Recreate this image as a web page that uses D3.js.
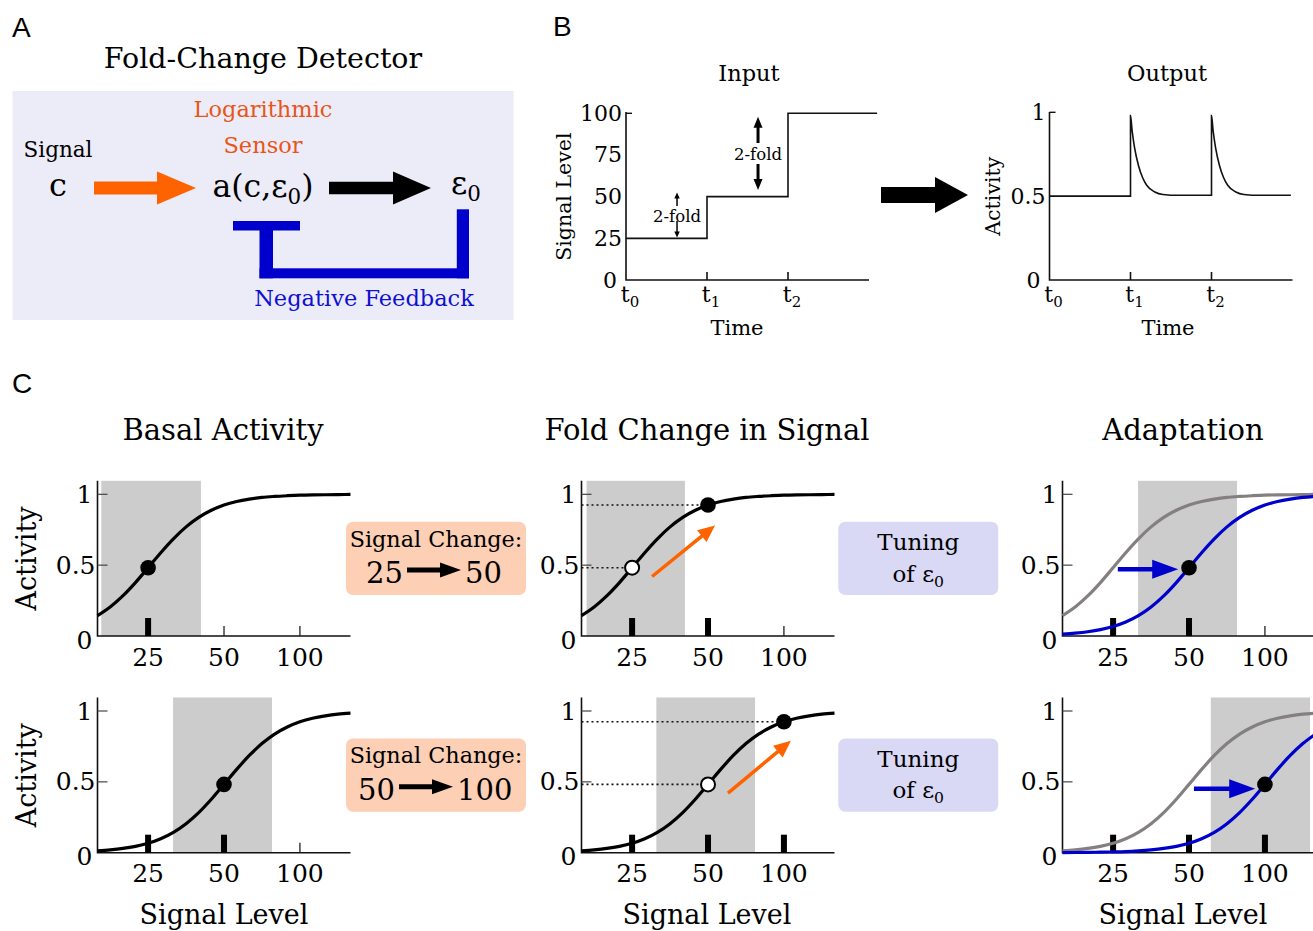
<!DOCTYPE html>
<html><head><meta charset="utf-8">
<script src="https://cdn.jsdelivr.net/npm/d3@7"></script>
<style>body{margin:0;background:#fff}svg{display:block}text{font-family:"DejaVu Serif",serif}text.sans{font-family:"Liberation Sans",Arial,sans-serif}</style>
</head><body>
<svg id="chart" width="1313" height="931"></svg>
<script>
// ================= DATA =================
// Panel B — input step signal
const inputTime = [0, 1, 2, 3.1];
const inputLevel = [25, 50, 100, 100];
const inputTickLabels = [0, 25, 50, 75, 100];
const timeTickValues = [0, 1, 2];
const timeTickLabels = ["0", "1", "2"];
const foldArrowTime = [0.63, 1.63];
const foldArrowLow = [25.5, 54];
const foldArrowHigh = [52.5, 98];
// Panel B — output activity
const outputTime = [0, 1, 1, 1.02, 1.05, 1.1, 1.15, 1.2, 1.3, 1.4, 1.6, 2, 2, 2.02, 2.05, 2.1, 2.15, 2.2, 2.3, 2.4, 2.6, 2.98];
const outputActivity = [0.5, 0.5, 0.98, 0.89, 0.79, 0.68, 0.61, 0.565, 0.525, 0.51, 0.505, 0.505, 0.98, 0.89, 0.79, 0.68, 0.61, 0.565, 0.525, 0.51, 0.505, 0.505];
const activityTickLabels = [0, 0.5, 1];

// Panel C — dose-response curves (log signal axis)
const signalLevels = [15.75, 17.68, 19.84, 22.27, 25, 28.06, 31.5, 35.36, 39.69, 44.54, 50, 56.12, 63, 70.71, 79.37, 89.09, 100, 112.2, 126, 141.4, 158.7];
const activityMid25 = [0.144, 0.205, 0.283, 0.377, 0.482, 0.588, 0.686, 0.770, 0.837, 0.887, 0.924, 0.949, 0.966, 0.978, 0.985, 0.990, 0.994, 0.996, 0.997, 0.998, 0.999];
const activityMid50 = [0.013, 0.020, 0.030, 0.045, 0.067, 0.099, 0.144, 0.205, 0.283, 0.377, 0.482, 0.588, 0.686, 0.770, 0.837, 0.887, 0.924, 0.949, 0.966, 0.978, 0.985];
const activityMid100 = [0.001, 0.0015, 0.002, 0.004, 0.0055, 0.008, 0.013, 0.020, 0.030, 0.045, 0.067, 0.099, 0.144, 0.205, 0.283, 0.377, 0.482, 0.588, 0.686, 0.770, 0.837];
const signalTicks = [25, 50, 100];
const basalSignal = [25, 50];
const changedSignal = [50, 100];
const columnTitles = ["Basal Activity", "Fold Change in Signal", "Adaptation"];
const shadeLow = [[16.3, 16.5, 31.4], [31.4, 31.2, 61]];
const shadeHigh = [[40.5, 40.5, 77.5], [77.5, 76.8, 151]];
const markedSignals = [[[25], [25, 50], [25, 50]], [[25, 50], [25, 50, 100], [25, 50, 100]]];
const orangeArrowFrom = [[30, 0.42], [60, 0.42]];
const orangeArrowTo = [[53.3, 0.78], [106.6, 0.79]];
const blueArrowFrom = [[26.1, 0.471], [52.3, 0.452]];
const blueArrowTo = [[45.3, 0.471], [91.5, 0.452]];

// ================= DRAWING =================
const svg = d3.select("#chart");
const ORANGE = "#ff6300", BLUE = "#0000cc";

function txt(g, x, y, s, size, o = {}) {
  const t = g.append("text").attr("x", x).attr("y", y).attr("font-size", size)
    .attr("text-anchor", o.anchor || "middle").attr("fill", o.fill || "#000");
  if (o.sans) t.attr("class", "sans");
  if (o.rotate) t.attr("transform", `rotate(-90,${x},${y})`);
  t.text(s);
  return t;
}
function subText(g, x, y, parts, size, o = {}) {
  const t = g.append("text").attr("x", x).attr("y", y).attr("font-size", size)
    .attr("text-anchor", o.anchor || "middle").attr("fill", o.fill || "#000");
  let shifted = false;
  parts.forEach(([s, sub]) => {
    const sp = t.append("tspan").text(s);
    if (sub && !shifted) { sp.attr("font-size", size * 0.68).attr("dy", size * 0.22); shifted = true; }
    else if (sub) { sp.attr("font-size", size * 0.68); }
    else if (!sub && shifted) { sp.attr("dy", -size * 0.22); shifted = false; }
  });
  return t;
}
function arrow(g, x1, y1, x2, y2, w, hl, hw, color) {
  const dx = x2 - x1, dy = y2 - y1, L = Math.hypot(dx, dy), ux = dx / L, uy = dy / L, px = -uy, py = ux;
  const bx = x2 - ux * hl, by = y2 - uy * hl;
  const pts = [[x1 + px * w / 2, y1 + py * w / 2], [bx + px * w / 2, by + py * w / 2], [bx + px * hw / 2, by + py * hw / 2],
    [x2, y2], [bx - px * hw / 2, by - py * hw / 2], [bx - px * w / 2, by - py * w / 2], [x1 - px * w / 2, y1 - py * w / 2]];
  g.append("polygon").attr("points", pts.map(p => p.join(",")).join(" ")).attr("fill", color);
}

// ---------- Panel A ----------
const A = svg.append("g");
txt(A, 12, 37, "A", 28, { anchor: "start", sans: true });
txt(A, 263, 68, "Fold-Change Detector", 28.5);
A.append("rect").attr("x", 12.5).attr("y", 91).attr("width", 501).attr("height", 229).attr("fill", "#ececf8");
txt(A, 263, 117, "Logarithmic", 22.5, { fill: "#e8561a" });
txt(A, 263, 153, "Sensor", 22.5, { fill: "#e8561a" });
txt(A, 58, 157, "Signal", 21.5);
txt(A, 58, 196, "c", 32);
arrow(A, 94, 188, 196, 188, 13, 39, 33, ORANGE);
subText(A, 263, 197, [["a(c,ε", false], ["0", true], [")", false]], 31.5);
arrow(A, 329, 188, 431, 188, 12.5, 38, 33, "#000");
subText(A, 466, 194, [["ε", false], ["0", true]], 31.5);
[[233, 221, 67, 9.5], [259.5, 221, 13.5, 57.3], [259.5, 268.3, 209.5, 10], [456.8, 209.3, 12.2, 69]]
  .forEach(r => A.append("rect").attr("x", r[0]).attr("y", r[1]).attr("width", r[2]).attr("height", r[3]).attr("fill", BLUE));
txt(A, 364, 306, "Negative Feedback", 22.5, { fill: "#1010d0" });

// ---------- Panel B ----------
const B = svg.append("g");
txt(B, 553, 36, "B", 28, { anchor: "start", sans: true });

function timePlot(g, x0, x1, yScale, yTop, yLabels, title, ylab, titleX, timeX, ylabX) {
  const xs = d3.scaleLinear().domain([0, 3]).range([x0, x1]);
  g.append("path").attr("d", `M${x0},${yTop}V${yScale(0)}H${x1}`).attr("fill", "none").attr("stroke", "#111").attr("stroke-width", 1.6);
  timeTickValues.slice(1).forEach(t => g.append("line").attr("x1", xs(t)).attr("x2", xs(t)).attr("y1", yScale(0)).attr("y2", yScale(0) - 8).attr("stroke", "#111").attr("stroke-width", 1.6));
  const top = yLabels[yLabels.length - 1];
  g.append("line").attr("x1", x0).attr("x2", x0 + 6).attr("y1", yScale(top)).attr("y2", yScale(top)).attr("stroke", "#111").attr("stroke-width", 1.4);
  yLabels.forEach(v => {
    const t = txt(g, v === 0 ? x0 - 9 : x0 - 4, yScale(v) + (v === 0 ? 8 : 0), String(v), 22, { anchor: "end" });
    if (v !== 0) t.attr("dominant-baseline", "central");
  });
  timeTickValues.forEach((t, i) => subText(g, xs(t) + 4, 302, [["t", false], [timeTickLabels[i], true]], 22));
  txt(g, timeX, 335, "Time", 21);
  txt(g, titleX, 81, title, 22.5);
  txt(g, ylabX, (yScale(0) + yScale(top)) / 2, ylab, 20.5, { rotate: true });
  return xs;
}
const yIn = d3.scaleLinear().domain([0, 100]).range([280, 113.3]);
const xIn = timePlot(B, 626, 869, yIn, 112, inputTickLabels, "Input", "Signal Level", 749, 737, 571);
B.append("path").datum(inputTime.map((t, i) => [t, inputLevel[i]]))
  .attr("d", d3.line().x(d => xIn(d[0])).y(d => yIn(d[1])).curve(d3.curveStepAfter))
  .attr("fill", "none").attr("stroke", "#111").attr("stroke-width", 1.6);
foldArrowTime.forEach((t, i) => {
  const x = xIn(t), yl = yIn(foldArrowLow[i]), yh = yIn(foldArrowHigh[i]);
  const big = i === 1;
  const lw = big ? 3 : 1.5, hl = big ? 11 : 6, hw = big ? 9 : 5.5;
  const labelY = big ? 160 : 222;
  const gapTop = big ? 143 : 206, gapBot = big ? 164 : 221;
  arrow(B, x, gapTop, x, yh, lw, hl, hw, "#000");
  arrow(B, x, gapBot, x, yl, lw, hl, hw, "#000");
  txt(B, x, labelY, "2-fold", 16.5);
});
arrow(B, 881, 195, 968, 195, 16, 33, 36, "#000");

const yOut = d3.scaleLinear().domain([0, 1]).range([280, 112.3]);
const xOut = timePlot(B, 1049.5, 1292.5, yOut, 112, activityTickLabels, "Output", "Activity", 1167, 1168, 1000);
B.append("path").datum(outputTime.map((t, i) => [t, outputActivity[i]]))
  .attr("d", d3.line().x(d => xOut(d[0])).y(d => yOut(d[1])).curve(d3.curveMonotoneX))
  .attr("fill", "none").attr("stroke", "#111").attr("stroke-width", 1.6);

// ---------- Panel C ----------
const C = svg.append("g");
txt(C, 12, 393, "C", 28, { anchor: "start", sans: true });
const colX = [97.5, 581.5, 1062.5];
const colCenter = [223, 707, 1183];
const rowBase = [636, 852.7];
columnTitles.forEach((t, i) => txt(C, colCenter[i], 440, t, 29));

function pointAt(curve, s) {
  const i = d3.minIndex(signalLevels, v => Math.abs(Math.log(v / s)));
  return curve[i];
}

for (let r = 0; r < 2; r++) {
  const basal = r === 0 ? activityMid25 : activityMid50;
  const adapted = r === 0 ? activityMid50 : activityMid100;
  const y0 = rowBase[r];
  const ys = d3.scaleLinear().domain([0, 1]).range([y0, y0 - 141.7]);
  txt(C, 36, y0 - 77.5, "Activity", 27, { rotate: true });
  for (let c = 0; c < 3; c++) {
    const g = C.append("g");
    const x0 = colX[c];
    const xs = d3.scaleLog().domain([signalLevels[0], signalLevels[signalLevels.length - 1]]).range([x0, x0 + 253]);
    const yTop = ys(1) - 13.5;
    g.append("rect").attr("x", xs(shadeLow[r][c])).attr("y", yTop)
      .attr("width", xs(shadeHigh[r][c]) - xs(shadeLow[r][c])).attr("height", y0 - yTop).attr("fill", "#cccccc");
    if (c === 1) {
      [basalSignal[r], changedSignal[r]].forEach(s => {
        const a = pointAt(basal, s);
        g.append("line").attr("x1", x0).attr("x2", xs(s)).attr("y1", ys(a)).attr("y2", ys(a))
          .attr("stroke", "#111").attr("stroke-width", 1.6).attr("stroke-dasharray", "2,3");
      });
    }
    g.append("path").attr("d", `M${x0},${yTop}V${y0}H${x0 + 253}`).attr("fill", "none").attr("stroke", "#111").attr("stroke-width", 1.6);
    [0.5, 1].forEach(v => g.append("line").attr("x1", x0).attr("x2", x0 + 10).attr("y1", ys(v)).attr("y2", ys(v)).attr("stroke", "#444").attr("stroke-width", 1.2));
    activityTickLabels.forEach(v => {
      const t = txt(g, x0 - (v === 0.5 ? 2 : 5), ys(v) + (v === 0 ? 4 : 0), String(v), 25, { anchor: "end" });
      t.attr("dominant-baseline", "central");
    });
    signalTicks.forEach(s => {
      const marked = markedSignals[r][c].includes(s);
      if (marked) g.append("rect").attr("x", xs(s) - 3).attr("y", y0 - 18).attr("width", 6).attr("height", 18).attr("fill", "#000");
      else g.append("line").attr("x1", xs(s)).attr("x2", xs(s)).attr("y1", y0).attr("y2", y0 - 10).attr("stroke", "#222").attr("stroke-width", 1.3);
      txt(g, xs(s), y0 + 29.5, String(s), 25);
    });
    if (r === 1) txt(g, colCenter[c] + (c === 0 ? 1 : 0), 924, "Signal Level", 27);
    const line = d3.line().x(d => xs(d[0])).y(d => ys(d[1])).curve(d3.curveMonotoneX);
    const pts = curve => signalLevels.map((s, i) => [s, curve[i]]);
    if (c < 2) {
      g.append("path").datum(pts(basal)).attr("d", line).attr("fill", "none").attr("stroke", "#000").attr("stroke-width", 3.2);
    } else {
      g.append("path").datum(pts(basal)).attr("d", line).attr("fill", "none").attr("stroke", "#858080").attr("stroke-width", 3.2);
      g.append("path").datum(pts(adapted)).attr("d", line).attr("fill", "none").attr("stroke", BLUE).attr("stroke-width", 3.2);
    }
    if (c === 0) {
      g.append("circle").attr("cx", xs(basalSignal[r])).attr("cy", ys(pointAt(basal, basalSignal[r]))).attr("r", 7.8).attr("fill", "#000");
    } else if (c === 1) {
      arrow(g, xs(orangeArrowFrom[r][0]), ys(orangeArrowFrom[r][1]), xs(orangeArrowTo[r][0]), ys(orangeArrowTo[r][1]), 3.5, 17, 15, ORANGE);
      g.append("circle").attr("cx", xs(basalSignal[r])).attr("cy", ys(pointAt(basal, basalSignal[r]))).attr("r", 7)
        .attr("fill", "#fff").attr("stroke", "#000").attr("stroke-width", 2);
      g.append("circle").attr("cx", xs(changedSignal[r])).attr("cy", ys(pointAt(basal, changedSignal[r]))).attr("r", 7.8).attr("fill", "#000");
    } else {
      arrow(g, xs(blueArrowFrom[r][0]), ys(blueArrowFrom[r][1]), xs(blueArrowTo[r][0]), ys(blueArrowTo[r][1]), 4.5, 26, 19, BLUE);
      g.append("circle").attr("cx", xs(changedSignal[r])).attr("cy", ys(pointAt(adapted, changedSignal[r]))).attr("r", 7.8).attr("fill", "#000");
    }
  }
  const dy = r * 216.7;
  C.append("rect").attr("x", 346).attr("y", 521.7 + dy).attr("width", 180).attr("height", 73.3).attr("rx", 7).attr("fill", "#fdcfb4");
  txt(C, 436, 546.7 + dy, "Signal Change:", 22.3);
  const nums = r === 0 ? [403, 407, 461, 465] : [395, 399, 453, 457];
  txt(C, nums[0], 583.3 + dy, String(basalSignal[r]), 29, { anchor: "end" });
  arrow(C, nums[1], 570 + dy, nums[2], 570 + dy, 5, 21, 15, "#000");
  txt(C, nums[3], 583.3 + dy, String(changedSignal[r]), 29, { anchor: "start" });
  C.append("rect").attr("x", 838.3).attr("y", 521.7 + dy).attr("width", 160).attr("height", 73.3).attr("rx", 7).attr("fill", "#d9d9f6");
  txt(C, 918.3, 550 + dy, "Tuning", 23);
  subText(C, 918.3, 581.7 + dy, [["of ε", false], ["0", true]], 23);
}
</script>
</body></html>
